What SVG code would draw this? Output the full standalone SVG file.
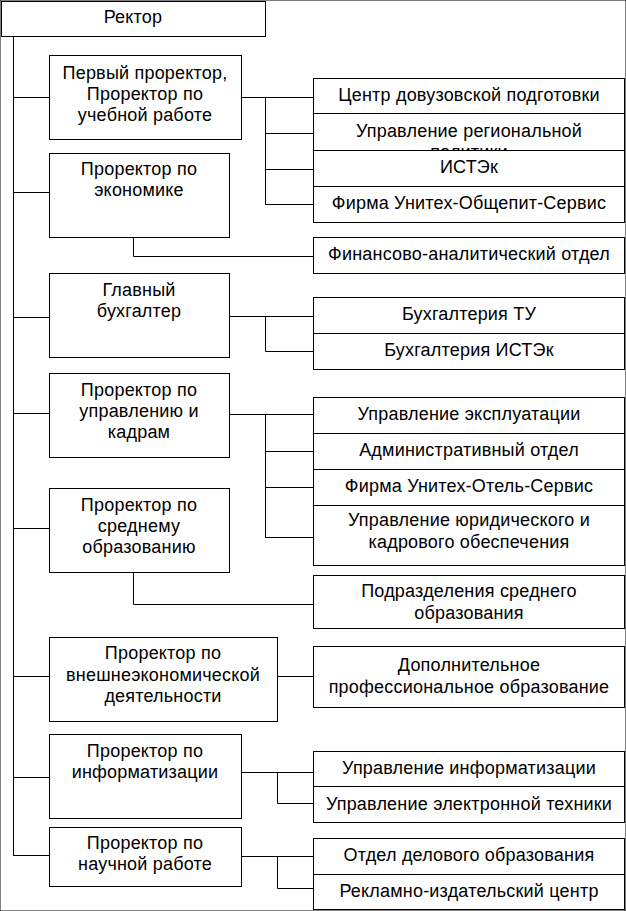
<svg xmlns="http://www.w3.org/2000/svg" width="626" height="911" viewBox="0 0 626 911">
<style>
rect{fill:#fff;stroke:#000;stroke-width:1}
path{fill:none;stroke:#000;stroke-width:1}
text{font-family:"Liberation Sans",Arial,sans-serif;font-size:18px;fill:#000;text-anchor:middle;letter-spacing:0.2px}
</style>
<defs><clipPath id="c2"><rect x="313" y="113" width="312" height="37"/></clipPath></defs>
<rect width="626" height="911" fill="#fff" stroke="none"/>
<g id="connectors">
<path d="M13.5 36 V855.5"/>
<path d="M13 97.5 H49 M13 192.5 H49 M13 317.5 H49 M13 413.5 H49 M13 528.5 H49 M13 676.5 H49 M13 777.5 H49 M13 855.5 H49"/>
<path d="M241 97.5 H313 M265.5 97 V204.5 M265 133.5 H313 M265 169.5 H313 M265 204.5 H313"/>
<path d="M133.5 237 V256.5 H313"/>
<path d="M229 316.5 H313 M265.5 316 V351.5 H313"/>
<path d="M229 414.5 H313 M265.5 414 V537.5 M265 451.5 H313 M265 487.5 H313 M265 537.5 H313"/>
<path d="M133.5 572 V604.5 H313"/>
<path d="M277 676.5 H313"/>
<path d="M241 772.5 H313 M277.5 772 V803.5 H313"/>
<path d="M241 856.5 H313 M277.5 856 V888.5 H313"/>
</g>
<g id="rector"><rect x="1.5" y="1.5" width="264" height="35"/><text x="133" y="23">Ректор</text></g>
<g id="p1"><rect x="49.5" y="55.5" width="192" height="84"/><text x="145" y="79">Первый проректор,</text><text x="145" y="100">Проректор по</text><text x="145" y="121">учебной работе</text></g>
<g id="p2"><rect x="49.5" y="153.5" width="180" height="84"/><text x="139" y="175">Проректор по</text><text x="139" y="196">экономике</text></g>
<g id="p3"><rect x="49.5" y="273.5" width="180" height="84"/><text x="139" y="296">Главный</text><text x="139" y="317">бухгалтер</text></g>
<g id="p4"><rect x="49.5" y="373.5" width="180" height="84"/><text x="139" y="396">Проректор по</text><text x="139" y="417">управлению и</text><text x="139" y="438">кадрам</text></g>
<g id="p5"><rect x="49.5" y="488.5" width="180" height="84"/><text x="139" y="511">Проректор по</text><text x="139" y="532">среднему</text><text x="139" y="553">образованию</text></g>
<g id="p6"><rect x="49.5" y="637.5" width="228" height="84"/><text x="163" y="659">Проректор по</text><text x="163" y="681">внешнеэкономической</text><text x="163" y="702">деятельности</text></g>
<g id="p7"><rect x="49.5" y="734.5" width="192" height="84"/><text x="145" y="757">Проректор по</text><text x="145" y="778">информатизации</text></g>
<g id="p8"><rect x="49.5" y="827.5" width="192" height="59"/><text x="145" y="849">Проректор по</text><text x="145" y="870">научной работе</text></g>
<g id="r1"><rect x="313.5" y="78.5" width="311" height="35"/><text x="469" y="101">Центр довузовской подготовки</text></g>
<g id="r2"><rect x="313.5" y="113.5" width="311" height="37"/><g clip-path="url(#c2)"><text x="469" y="137">Управление региональной</text><text x="469" y="158">политики</text></g></g>
<g id="r3"><rect x="313.5" y="150.5" width="311" height="36"/><text x="469" y="173">ИСТЭк</text></g>
<g id="r4"><rect x="313.5" y="186.5" width="311" height="36"/><text x="469" y="209">Фирма Унитех-Общепит-Сервис</text></g>
<g id="r5"><rect x="313.5" y="237.5" width="311" height="36"/><text x="469" y="260">Финансово-аналитический отдел</text></g>
<g id="r6"><rect x="313.5" y="297.5" width="311" height="36"/><text x="469" y="320">Бухгалтерия ТУ</text></g>
<g id="r7"><rect x="313.5" y="333.5" width="311" height="36"/><text x="469" y="356">Бухгалтерия ИСТЭк</text></g>
<g id="r8"><rect x="313.5" y="397.5" width="311" height="36"/><text x="469" y="420">Управление эксплуатации</text></g>
<g id="r9"><rect x="313.5" y="433.5" width="311" height="36"/><text x="469" y="456">Административный отдел</text></g>
<g id="r10"><rect x="313.5" y="469.5" width="311" height="36"/><text x="469" y="492">Фирма Унитех-Отель-Сервис</text></g>
<g id="r11"><rect x="313.5" y="505.5" width="311" height="60"/><text x="469" y="526">Управление юридического и</text><text x="469" y="548">кадрового обеспечения</text></g>
<g id="r12"><rect x="313.5" y="575.5" width="311" height="53"/><text x="469" y="597">Подразделения среднего</text><text x="469" y="619">образования</text></g>
<g id="r13"><rect x="313.5" y="646.5" width="311" height="61"/><text x="469" y="671">Дополнительное</text><text x="469" y="693">профессиональное образование</text></g>
<g id="r14"><rect x="313.5" y="751.5" width="311" height="35"/><text x="469" y="774">Управление информатизации</text></g>
<g id="r15"><rect x="313.5" y="786.5" width="311" height="36"/><text x="469" y="810">Управление электронной техники</text></g>
<g id="r16"><rect x="313.5" y="838.5" width="311" height="36"/><text x="469" y="861">Отдел делового образования</text></g>
<g id="r17"><rect x="313.5" y="874.5" width="311" height="35"/><text x="469" y="897">Рекламно-издательский центр</text></g>
</svg>
